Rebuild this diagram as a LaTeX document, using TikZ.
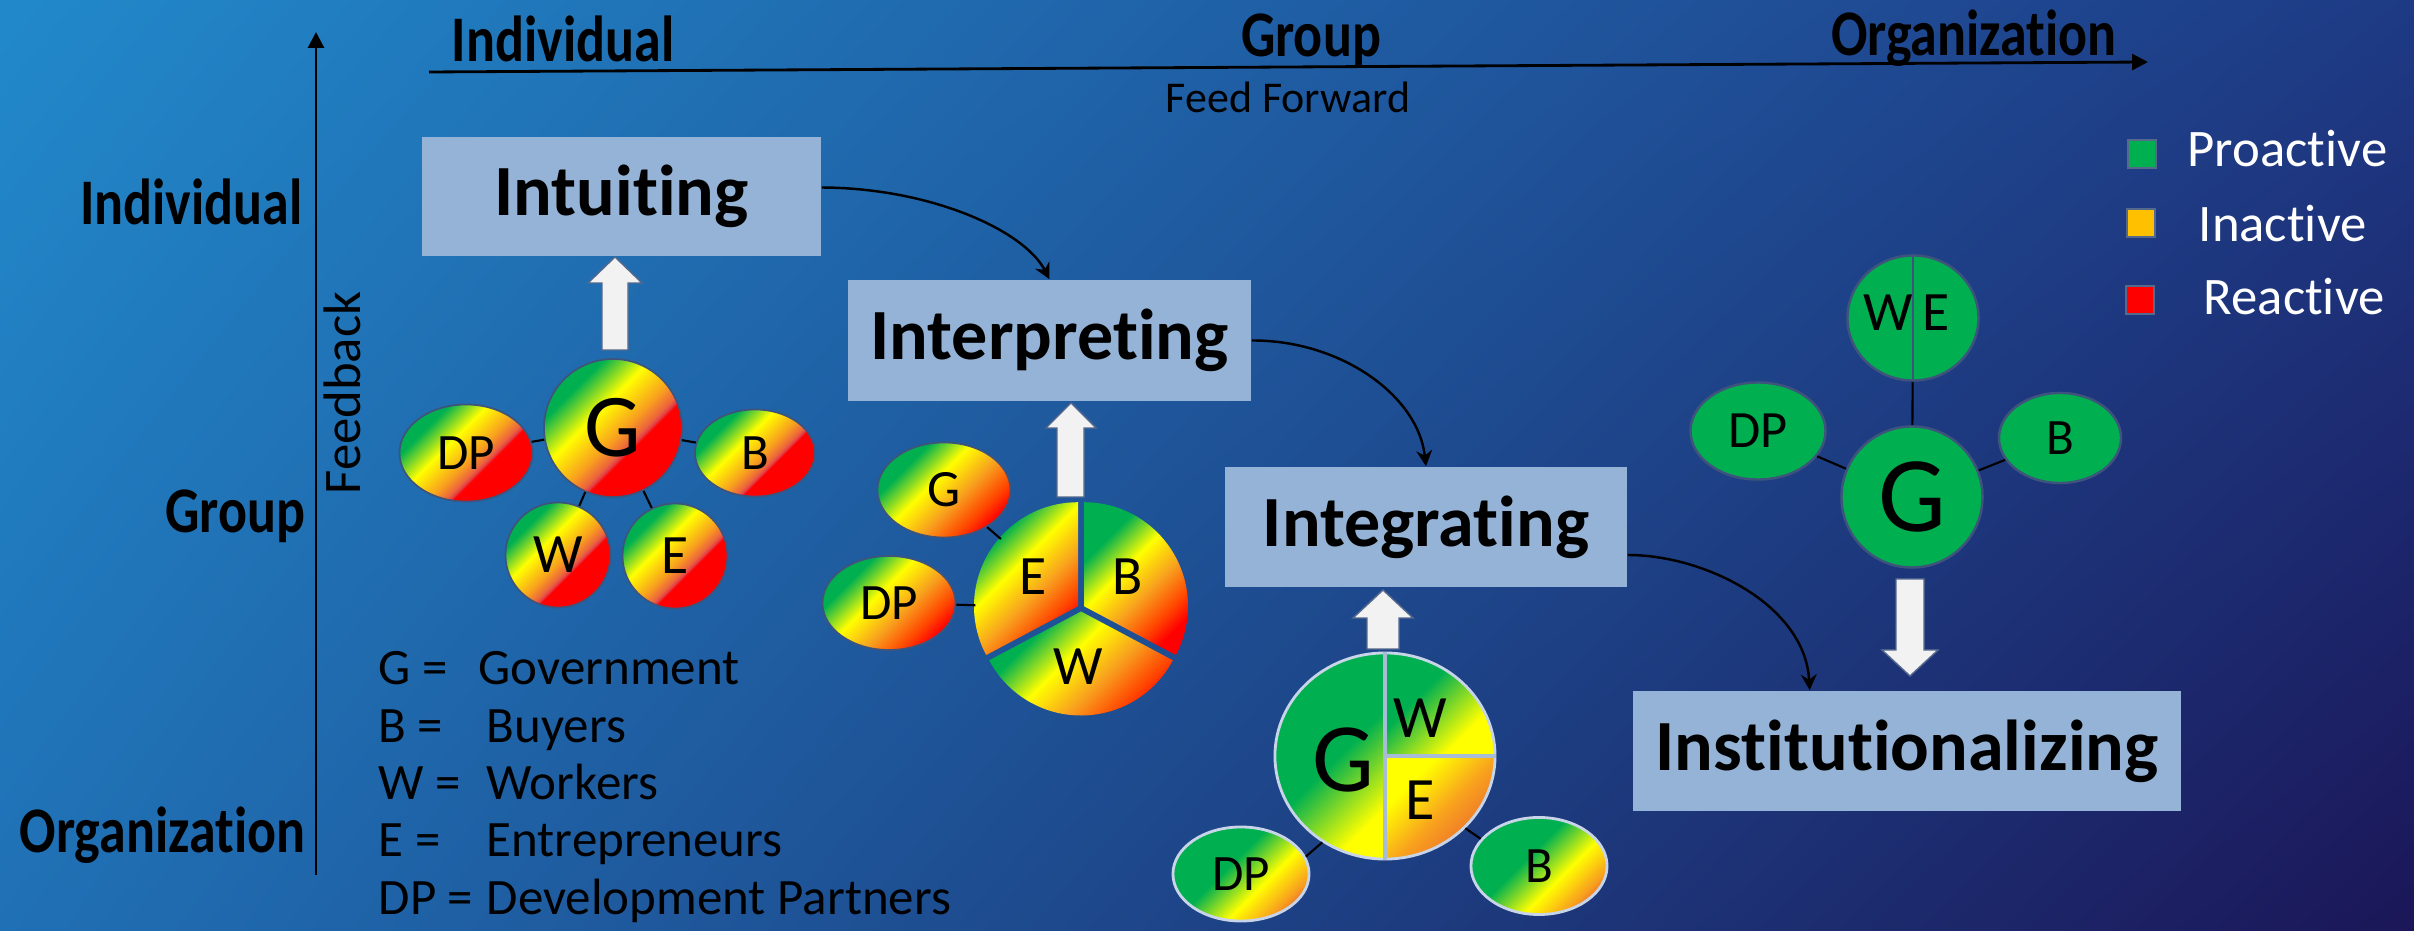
\documentclass[tikz,border=0pt]{standalone}
\usepackage{fontspec}
\setmainfont{Carlito}[Ligatures=NoCommon]
\newfontfamily\axisfont[FakeStretch=0.83,Ligatures=NoCommon]{Carlito}
\usetikzlibrary{arrows.meta,positioning,calc,shapes.geometric,shadings}
\definecolor{bgUL}{RGB}{33,137,202}
\definecolor{bgUR}{RGB}{30,58,133}
\definecolor{bgLL}{RGB}{32,112,181}
\definecolor{bgLR}{RGB}{27,22,88}
\definecolor{boxblue}{RGB}{149,179,215}
\definecolor{proG}{RGB}{0,176,80}
\definecolor{inaY}{RGB}{255,192,0}
\definecolor{reaR}{RGB}{255,0,0}
\definecolor{yel}{RGB}{255,255,0}
\definecolor{orng}{RGB}{248,160,30}
\definecolor{redor}{RGB}{255,70,0}
\definecolor{burnt}{RGB}{235,105,45}
\definecolor{midred}{RGB}{236,100,60}
\definecolor{pinkred}{RGB}{226,62,72}
\definecolor{arrwhite}{RGB}{242,242,242}
\definecolor{arredge}{RGB}{85,105,140}
\definecolor{rimdark}{RGB}{62,84,125}
\definecolor{rimlight}{RGB}{200,212,232}
\definecolor{splitlight}{RGB}{168,188,216}
% stakeholder gradients, green top left to red bottom right
\pgfdeclarehorizontalshading{mixA}{100bp}{color(0bp)=(proG); color(30bp)=(proG);
  color(42bp)=(yel); color(53bp)=(orng); color(58bp)=(midred); color(59.5bp)=(pinkred);
  color(60.5bp)=(reaR); color(100bp)=(reaR)}
\pgfdeclarehorizontalshading{mixB}{100bp}{color(0bp)=(proG); color(31bp)=(proG);
  color(44bp)=(yel); color(57bp)=(orng); color(68bp)=(redor); color(75bp)=(reaR);
  color(100bp)=(reaR)}
\pgfdeclarehorizontalshading{mixC}{100bp}{color(0bp)=(proG); color(44bp)=(proG);
  color(60bp)=(yel); color(72bp)=(orng); color(77bp)=(burnt); color(100bp)=(burnt)}
\pgfdeclarehorizontalshading{gHalf}{100bp}{color(0bp)=(proG); color(52bp)=(proG);
  color(74bp)=(yel); color(100bp)=(yel)}
\pgfdeclarehorizontalshading{gQuart}{100bp}{color(0bp)=(proG); color(40bp)=(proG);
  color(68bp)=(yel); color(100bp)=(yel)}
\pgfdeclarehorizontalshading{yQuart}{100bp}{color(0bp)=(yel); color(32bp)=(yel);
  color(53bp)=(orng); color(73bp)=(burnt); color(100bp)=(burnt)}

\begin{document}
\begin{tikzpicture}[x=0.01cm,y=-0.01cm,
  axislab/.style={inner sep=0pt,font=\axisfont\bfseries\fontsize{18.5}{20}\selectfont},
  stage/.style={fill=boxblue,inner sep=0pt,font=\bfseries\fontsize{20.5}{24}\selectfont},
  flow/.style={line width=0.7pt,-{Stealth[length=4.5pt,width=4.5pt]}},
  axis/.style={line width=0.8pt,-{Triangle[length=4.5pt,width=4.5pt]}},
  block/.style={fill=arrwhite,draw=arredge,line width=0.4pt},
  bub/.style={inner sep=0pt,draw=rimdark,line width=0.5pt},
  warmA/.style={bub,shade,shading=mixA,shading angle=-45},
  warmB/.style={bub,shade,shading=mixB,shading angle=-45},
  coolC/.style={inner sep=0pt,draw=rimlight,line width=0.8pt,shade,shading=mixC,shading angle=-45},
  greenD/.style={inner sep=0pt,fill=proG,draw=rimdark,line width=0.7pt},
  tie/.style={line width=0.6pt},
  keysq/.style={minimum size=0.28cm,inner sep=0pt,draw=arredge,line width=0.6pt},
  keytext/.style={inner sep=0pt,text=white,font=\fontsize{15}{18}\selectfont,anchor=base west},
  abbrev/.style={inner sep=0pt,font=\fontsize{14.5}{17}\selectfont,anchor=base west}]
  \useasboundingbox (0,0) rectangle (2414,931);
  \shade[upper left=bgUL,upper right=bgUR,lower left=bgLL,lower right=bgLR] (0,0) rectangle (2414,931);

  % level axes
  \coordinate (fbBase) at (316,875);
  \coordinate (fbTip) at (316,32);
  \draw[axis] (fbBase) -- (fbTip);
  \coordinate (ffBase) at (429,72);
  \coordinate (ffTip) at (2148,62);
  \draw[axis] (ffBase) -- (ffTip);
  \node[axislab,anchor=base] (topInd) at (563,62) {Individual};
  \node[axislab,anchor=base] (topGrp) at (1311,57) {Group};
  \node[axislab,anchor=base] (topOrg) at (1974,56) {Organization};
  \node[axislab,anchor=base east] (leftInd) at (303,225) {Individual};
  \node[axislab,anchor=base east] (leftGrp) at (306,533) {Group};
  \node[axislab,anchor=base east] (leftOrg) at (306,853) {Organization};
  \node[rotate=90,font=\fontsize{15}{18}\selectfont] (fbLab) at (342,393) {Feedback};
  \node[anchor=base,font=\fontsize{12.5}{15}\selectfont] (ffLab) at (1288,113) {Feed Forward};

  % the four learning processes
  \node[stage,minimum width=3.99cm,minimum height=1.19cm] (intu) at (621.5,196.5) {Intuiting};
  \node[stage,minimum width=4.03cm,minimum height=1.21cm] (interp) at (1049.5,340.5) {Interpreting};
  \node[stage,minimum width=4.02cm,minimum height=1.20cm] (integ) at (1426,527) {Integrating};
  \node[stage,minimum width=5.48cm,minimum height=1.20cm] (inst) at (1907,751) {Institutionalizing};
  \draw[flow] ($(intu.east)+(0,-9)$) .. controls (930,188) and (1024,230) .. (interp.north);
  \draw[flow] (interp.east) .. controls (1340,340) and (1418,395) .. (integ.north);
  \draw[flow] ($(integ.east)+(0,28)$) .. controls (1705,555) and (1805,605)
    .. ($(inst.north west)!0.323!(inst.north east)$);

  % block arrows between actors and processes
  \draw[block] (602,350) -- (602,283) -- (588,283) -- (615,257) -- (642,283) -- (628,283) -- (628,350) -- cycle;
  \draw[block] (1057,497) -- (1057,428) -- (1046,428) -- (1071,403) -- (1096,428) -- (1084,428) -- (1084,497) -- cycle;
  \draw[block] (1367,649) -- (1367,618) -- (1353,618) -- (1383,590) -- (1413,618) -- (1399,618) -- (1399,649) -- cycle;
  \draw[block] (1896,579) -- (1896,650) -- (1882,650) -- (1910,676) -- (1938,650) -- (1924,650) -- (1924,579) -- cycle;

  % actors at intuiting
  \node[warmA,circle,minimum size=1.38cm,font=\fontsize{25.5}{28}\selectfont] (gA) at (613,428) {G};
  \node[warmA,ellipse,minimum width=1.33cm,minimum height=0.97cm,font=\fontsize{14.5}{17}\selectfont] (dpA) at (466,453) {DP};
  \node[warmA,ellipse,minimum width=1.20cm,minimum height=0.87cm,font=\fontsize{14.5}{17}\selectfont] (bA) at (755,453) {B};
  \node[warmA,circle,minimum size=1.05cm,font=\fontsize{15.8}{18}\selectfont] (wA) at (558,555) {W};
  \node[warmA,circle,minimum size=1.05cm,font=\fontsize{15.8}{18}\selectfont] (eA) at (675,556) {E};
  \draw[tie] (gA) -- (dpA);
  \draw[tie] (gA) -- (bA);
  \draw[tie] (gA) -- (wA);
  \draw[tie] (gA) -- (eA);

  % actors at interpreting
  \node[warmB,ellipse,minimum width=1.33cm,minimum height=0.95cm,font=\fontsize{14.9}{17}\selectfont] (gB) at (944,490) {G};
  \node[warmB,ellipse,minimum width=1.33cm,minimum height=0.94cm,font=\fontsize{14.5}{17}\selectfont] (dpB) at (889,603) {DP};
  \shade[shading=mixB,shading angle=-45,shift={(-3,-1.8)}] (1081,608) -- ++(-90:104)
    arc[start angle=-90,end angle=-208,radius=104] -- cycle;
  \shade[shading=mixB,shading angle=-45,shift={(3,-1.8)}] (1081,608) -- ++(-90:104)
    arc[start angle=-90,end angle=28,radius=104] -- cycle;
  \shade[shading=mixB,shading angle=-45,shift={(0,3.5)}] (1081,608) -- ++(28:104)
    arc[start angle=28,end angle=152,radius=104] -- cycle;
  \node[circle,minimum size=2.1cm,inner sep=0pt] (pieB) at (1081,608) {};
  \node[font=\fontsize{15.8}{18}\selectfont] (eB) at (1033,577) {E};
  \node[font=\fontsize{15.8}{18}\selectfont] (bB) at (1128,577) {B};
  \node[font=\fontsize{15.8}{18}\selectfont] (wB) at (1078,667) {W};
  \draw[tie] (gB) -- (pieB);
  \draw[tie] (dpB) -- (pieB);

  % actors at integrating
  \shade[shading=gHalf,shading angle=-45] (1385,653)
    arc[start angle=-90,end angle=-270,x radius=110,y radius=103] -- cycle;
  \shade[shading=gQuart,shading angle=-45] (1385,756) -- (1385,653)
    arc[start angle=-90,end angle=0,x radius=110,y radius=103] -- cycle;
  \shade[shading=yQuart,shading angle=-45] (1385,756) -- (1495,756)
    arc[start angle=0,end angle=90,x radius=110,y radius=103] -- cycle;
  \node[ellipse,draw=rimlight,line width=0.8pt,minimum width=2.2cm,minimum height=2.06cm,inner sep=0pt] (pieC) at (1385,756) {};
  \draw[splitlight,line width=1.1pt] (pieC.north) -- (pieC.south);
  \draw[splitlight,line width=1.1pt] (pieC.center) -- (pieC.east);
  \node[font=\fontsize{27.9}{30}\selectfont] (gC) at (1343,760) {G};
  \node[font=\fontsize{17.1}{20}\selectfont] (wC) at (1420,718) {W};
  \node[font=\fontsize{17.1}{20}\selectfont] (eC) at (1420,800) {E};
  \node[coolC,ellipse,minimum width=1.36cm,minimum height=0.94cm,font=\fontsize{14.5}{17}\selectfont] (dpC) at (1241,874) {DP};
  \node[coolC,ellipse,minimum width=1.36cm,minimum height=0.97cm,font=\fontsize{14.5}{17}\selectfont] (bC) at (1539,866) {B};
  \draw[tie] (pieC.234) -- (dpC.15);
  \draw[tie] (pieC.-42) -- (bC.155);

  % actors at institutionalizing
  \node[greenD,ellipse,minimum width=1.31cm,minimum height=1.25cm] (weD) at (1913,318) {};
  \draw[rimdark,line width=0.7pt] (weD.north) -- (weD.south);
  \node[font=\fontsize{15.8}{18}\selectfont] (wD) at (1888,313) {W};
  \node[font=\fontsize{15.8}{18}\selectfont] (eD) at (1936,313) {E};
  \node[greenD,circle,minimum size=1.41cm,font=\fontsize{30.6}{33}\selectfont] (gD) at (1912,497) {G};
  \node[greenD,ellipse,minimum width=1.35cm,minimum height=0.97cm,font=\fontsize{14.9}{17}\selectfont] (dpD) at (1758,431) {DP};
  \node[greenD,ellipse,minimum width=1.22cm,minimum height=0.90cm,font=\fontsize{14.5}{17}\selectfont] (bD) at (2060,438) {B};
  \draw[tie] (weD) -- (gD);
  \draw[tie] (dpD) -- (gD);
  \draw[tie] (gD) -- (bD);

  % colour key
  \node[keysq,fill=proG] (kPro) at (2142,154) {};
  \node[keytext] (tPro) at (2187,167) {Proactive};
  \node[keysq,fill=inaY] (kIna) at (2141,223) {};
  \node[keytext] (tIna) at (2198,242) {Inactive};
  \node[keysq,fill=reaR] (kRea) at (2140,300) {};
  \node[keytext] (tRea) at (2203,315) {Reactive};

  % actor key
  \node[abbrev] (aG) at (378,685) {G =};
  \node[abbrev] (nG) at (478,685) {Government};
  \node[abbrev] (aB) at (378,743) {B =};
  \node[abbrev] (nB) at (486,743) {Buyers};
  \node[abbrev] (aW) at (378,800) {W =};
  \node[abbrev] (nW) at (486,800) {Workers};
  \node[abbrev] (aE) at (378,857) {E =};
  \node[abbrev] (nE) at (486,857) {Entrepreneurs};
  \node[abbrev] (aDP) at (378,915) {DP =};
  \node[abbrev] (nDP) at (486,915) {Development Partners};
\end{tikzpicture}
\end{document}
